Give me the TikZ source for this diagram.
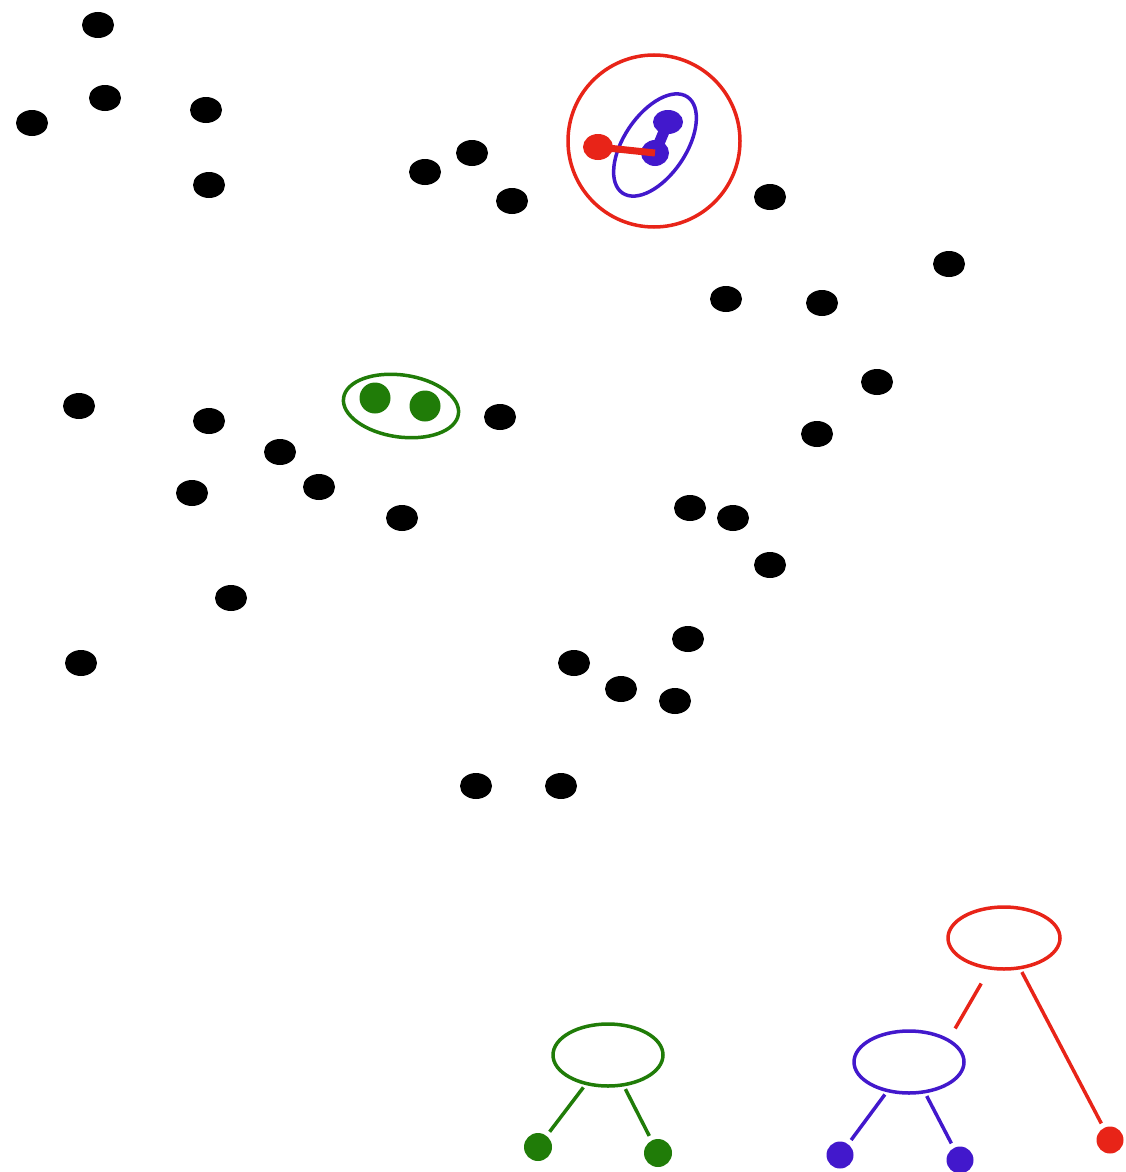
\documentclass[tikz,border=0pt]{standalone}
\usepackage{xcolor}
\usepackage{tikz}
\usetikzlibrary{shapes.geometric}

\definecolor{clred}{RGB}{232,36,24}
\definecolor{clblue}{RGB}{66,24,204}
\definecolor{clgreen}{RGB}{32,124,8}

\begin{document}
\begin{tikzpicture}[x=1pt,y=1pt,
pt/.style={ellipse,fill=black,inner sep=0pt,minimum width=32pt,minimum height=26pt},
leaf/.style={circle,fill=#1,inner sep=0pt,minimum size=28pt},
cl/.style={ellipse,draw=#1,line width=3.5pt,minimum width=110pt,minimum height=62pt},
edge/.style={draw=#1,line width=3.5pt,shorten <=3pt,shorten >=5pt}]
\useasboundingbox (0,0) rectangle (1126,-1172);

% points
\foreach \x/\y [count=\i] in {98/25,105/98,32/123,206/110,209/185,425/172,472/153,
512/201,770/197,949/264,726/299,822/303,877/382,817/434,79/406,209/421,280/452,
192/493,319/487,402/518,500/417,690/508,733/518,770/565,231/598,81/663,688/639,
574/663,621/689,675/701,476/786,561/786}
\node[pt] (p\i) at (\x,-\y) {};

% red cluster
\draw[clred,line width=3.5pt] (654,-141) circle[radius=86];
\draw[clblue,line width=3.5pt] (655,-145) ellipse[x radius=58,y radius=31,rotate=56];
\node[ellipse,fill=clblue,inner sep=0pt,minimum width=30pt,minimum height=24pt] (b1) at (668,-122) {};
\node[ellipse,fill=clblue,inner sep=0pt,minimum width=28pt,minimum height=26pt] (b2) at (655,-153) {};
\draw[clblue,line width=11pt] (b1.center) -- (b2.center);
\node[ellipse,fill=clred,inner sep=0pt,minimum width=30pt,minimum height=26pt] (r1) at (598,-147) {};
\draw[clred,line width=7pt] (r1.center) -- (b2.center);

% green cluster
\draw[clgreen,line width=3.5pt] (401,-406) ellipse[x radius=58,y radius=31,rotate=-8];
\node[leaf=clgreen,minimum size=31pt] (g1) at (375,-398) {};
\node[leaf=clgreen,minimum size=31pt] (g2) at (425,-406) {};

% trees
\node[cl=clgreen] (tg) at (608,-1055) {};
\node[leaf=clgreen] (tg1) at (538,-1147) {};
\node[leaf=clgreen] (tg2) at (658,-1153) {};
\draw[edge=clgreen] (tg) -- (tg1);
\draw[edge=clgreen] (tg) -- (tg2);

\node[cl=clred,minimum width=112pt] (tr) at (1004,-938) {};
\node[cl=clblue] (tb) at (909,-1062) {};
\node[leaf=clblue,minimum size=27pt] (tb1) at (840,-1155) {};
\node[leaf=clblue,minimum size=27pt] (tb2) at (960,-1160) {};
\node[leaf=clred,minimum size=27pt] (tr1) at (1110,-1140) {};
\draw[edge=clblue] (tb) -- (tb1);
\draw[edge=clblue] (tb) -- (tb2);
\draw[edge=clred,shorten <=16pt,shorten >=12pt] (tr.245) -- (tb.30);
\draw[edge=clred] (tr) -- (tr1);
\end{tikzpicture}
\end{document}
